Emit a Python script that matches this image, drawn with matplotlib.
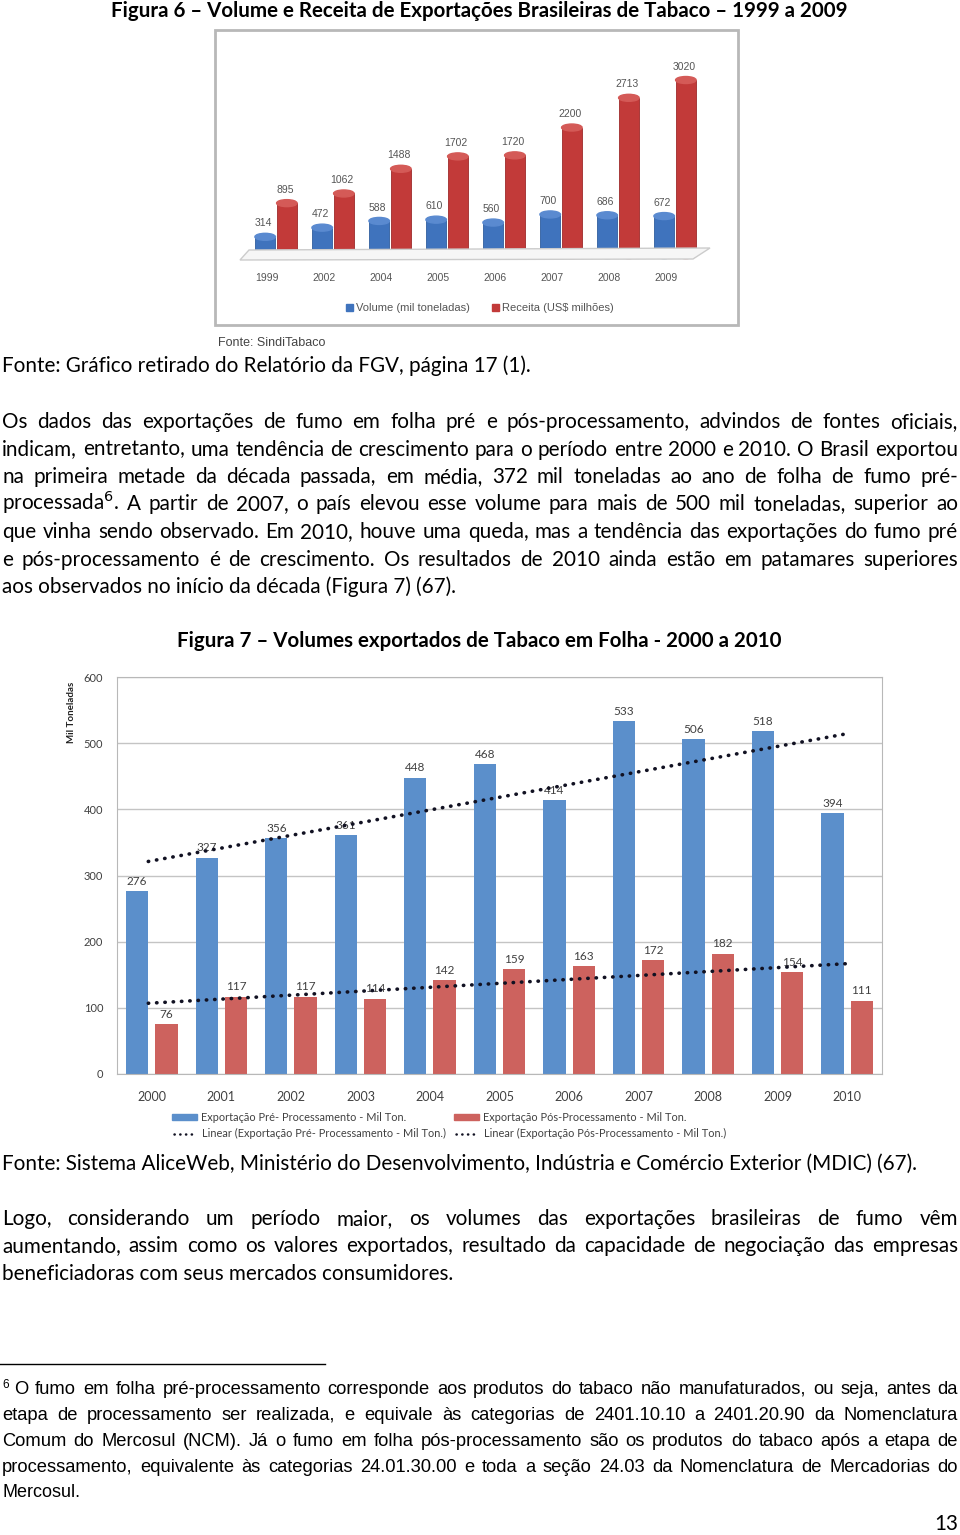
import numpy as np
import matplotlib
matplotlib.use("Agg")
import matplotlib.pyplot as plt
from matplotlib.patches import Rectangle, Ellipse, Polygon
from matplotlib.lines import Line2D

# dados - figura 6 (SindiTabaco)
anos6 = ["1999", "2002", "2004", "2005", "2006", "2007", "2008", "2009"]
volume = [314, 472, 588, 610, 560, 700, 686, 672]
receita = [895, 1062, 1488, 1702, 1720, 2200, 2713, 3020]

# dados - figura 7 (AliceWeb)
anos7 = ["2000", "2001", "2002", "2003", "2004", "2005", "2006", "2007", "2008", "2009", "2010"]
pre = [276, 327, 356, 361, 448, 468, 414, 533, 506, 518, 394]
pos = [76, 117, 117, 114, 142, 159, 163, 172, 182, 154, 111]
yticks7 = [0, 100, 200, 300, 400, 500, 600]

W, H = 960, 1535
BODY = ["Lato", "DejaVu Sans"]
NOTE = ["Liberation Sans Narrow", "Liberation Sans", "DejaVu Sans"]
SMALL = ["Liberation Sans", "DejaVu Sans"]
PONTOS = (0, (0.1, 2.2))

def fx(x):
    return x / W

def fy(y):
    return 1 - y / H

fig = plt.figure(figsize=(9.6, 15.35), dpi=100)
fig.patch.set_facecolor("white")
renderer = fig.canvas.get_renderer()


def linha(y, texto, x0=2, x1=958, justify=True, size=14.9, family=BODY, weight="normal", color="black"):
    # escreve uma linha de texto, justificada palavra a palavra
    if not justify:
        fig.text(fx(x0), fy(y), texto, fontsize=size, family=family, weight=weight,
                 color=color, va="baseline", ha="left")
        return
    palavras = texto.split(" ")
    ts = [fig.text(0, fy(y), p, fontsize=size, family=family, weight=weight, color=color,
                   va="baseline", ha="left") for p in palavras]
    while True:
        ws = [t.get_window_extent(renderer).width for t in ts]
        gap = (x1 - x0 - sum(ws)) / (len(palavras) - 1)
        if gap >= size * 0.3:
            break
        size *= 0.98
        for t in ts:
            t.set_fontsize(size)
    x = x0
    for t, w in zip(ts, ws):
        t.set_x(fx(x))
        x += w + gap


def titulo(y, texto, x0, x1, size=14, family=BODY, weight="bold", color="black"):
    t = fig.text(fx((x0 + x1) / 2), fy(y), texto, fontsize=size, family=family, weight=weight,
                 color=color, va="baseline", ha="center")
    w = t.get_window_extent(renderer).width
    t.set_fontsize(size * (x1 - x0) / w)
    return t


# ---------------- Figura 6 ----------------
titulo(17, "Figura 6 – Volume e Receita de Exportações Brasileiras de Tabaco – 1999 a 2009", 108, 851)

fig.add_artist(Rectangle((fx(215), fy(325)), 523 / W, 295 / H, transform=fig.transFigure,
                         fill=False, ec="#b8b8b8", lw=2))
# piso 3D
fig.add_artist(Polygon([(fx(240), fy(260)), (fx(249), fy(250)), (fx(710), fy(248)), (fx(693), fy(259))],
                       closed=True, transform=fig.transFigure, fc="#f6f6f6", ec="#cccccc", lw=1))

ax1 = fig.add_axes([fx(247.5), fy(255), 456 / W, 197 / H])
ax1.set_facecolor("none")
x6 = np.arange(len(anos6))
ax1.bar(x6 - 0.19, volume, 0.36, color="#3f73bd", ec="#2f5e9e", lw=0.6, zorder=2)
ax1.bar(x6 + 0.19, receita, 0.36, color="#c23a39", ec="#9e2a2a", lw=0.6, zorder=2)
eh = 7 * 3400 / 197
for xi, v, r in zip(x6, volume, receita):
    ax1.add_patch(Ellipse((xi - 0.19, 0), 0.36, eh, color="#2f5e9e", zorder=1, clip_on=False))
    ax1.add_patch(Ellipse((xi + 0.19, 0), 0.36, eh, color="#9e2a2a", zorder=1, clip_on=False))
    ax1.add_patch(Ellipse((xi - 0.19, v), 0.36, eh, color="#5a8ad0", zorder=3, clip_on=False))
    ax1.add_patch(Ellipse((xi + 0.19, r), 0.36, eh, color="#d45a57", zorder=3, clip_on=False))
    ax1.annotate(str(v), (xi - 0.22, v), xytext=(0, 6), textcoords="offset points", ha="center",
                 va="bottom", fontsize=7.5, color="#555555", family=SMALL)
    ax1.annotate(str(r), (xi + 0.16, r), xytext=(0, 6), textcoords="offset points", ha="center",
                 va="bottom", fontsize=7.5, color="#555555", family=SMALL)
ax1.set_xlim(-0.5, 7.5)
ax1.set_ylim(0, 3400)
ax1.set_yticks([])
ax1.set_xticks(x6 - 0.16)
ax1.set_xticklabels(anos6, fontsize=7.5, color="#555555", family=SMALL)
ax1.tick_params(axis="x", length=0, pad=13)
for s in ax1.spines.values():
    s.set_visible(False)

# legenda figura 6
fig.add_artist(Rectangle((fx(346), fy(311)), 7 / W, 7 / H, transform=fig.transFigure, color="#3f73bd"))
fig.text(fx(356), fy(311), "Volume (mil toneladas)", fontsize=8, color="#555555", family=SMALL, va="baseline")
fig.add_artist(Rectangle((fx(492), fy(311)), 7 / W, 7 / H, transform=fig.transFigure, color="#c23a39"))
fig.text(fx(502), fy(311), "Receita (US$ milhões)", fontsize=8, color="#555555", family=SMALL, va="baseline")

fig.text(fx(218), fy(346), "Fonte: SindiTabaco", fontsize=9, color="#444444", family=SMALL, va="baseline")

# ---------------- texto ----------------
linha(372, "Fonte: Gráfico retirado do Relatório da FGV, página 17 (1).", justify=False)
corpo = [
    "Os dados das exportações de fumo em folha pré e pós-processamento, advindos de fontes oficiais,",
    "indicam, entretanto, uma tendência de crescimento para o período entre 2000 e 2010. O Brasil exportou",
    "na primeira metade da década passada, em média, 372 mil toneladas ao ano de folha de fumo pré-",
    "processada$^{6}$. A partir de 2007, o país elevou esse volume para mais de 500 mil toneladas, superior ao",
    "que vinha sendo observado. Em 2010, houve uma queda, mas a tendência das exportações do fumo pré",
    "e pós-processamento é de crescimento. Os resultados de 2010 ainda estão em patamares superiores",
]
for i, s in enumerate(corpo):
    linha(428 + 27.5 * i, s)
linha(428 + 27.5 * 6, "aos observados no início da década (Figura 7) (67).", justify=False)

# ---------------- Figura 7 ----------------
titulo(647, "Figura 7 – Volumes exportados de Tabaco em Folha - 2000 a 2010", 175, 784)

ax2 = fig.add_axes([fx(117), fy(1074), 765 / W, 397 / H])
x7 = np.arange(len(anos7))
ax2.bar(x7 - 0.21, pre, 0.32, color="#5b8fcb", zorder=2)
ax2.bar(x7 + 0.21, pos, 0.32, color="#cd625e", zorder=2)
for xi, a, b in zip(x7, pre, pos):
    ax2.annotate(str(a), (xi - 0.21, a), xytext=(0, 3), textcoords="offset points", ha="center",
                 va="bottom", fontsize=8.5, color="#404040", family=BODY)
    ax2.annotate(str(b), (xi + 0.21, b), xytext=(0, 3), textcoords="offset points", ha="center",
                 va="bottom", fontsize=8.5, color="#404040", family=BODY)

# tendências lineares
for serie in (pre, pos):
    a, b = np.polyfit(x7, serie, 1)
    xs = np.array([x7[0] - 0.05, x7[-1]])
    ax2.plot(xs, a * xs + b, color="#111122", lw=2.6, ls=PONTOS, dash_capstyle="round", zorder=4)

ax2.set_xlim(-0.5, len(anos7) - 0.5)
ax2.set_ylim(0, 600)
ax2.set_yticks(yticks7)
ax2.set_yticklabels([str(v) for v in yticks7], fontsize=8, color="#404040", family=BODY)
ax2.set_xticks(x7)
ax2.set_xticklabels(anos7, fontsize=9, color="#404040", family=BODY)
ax2.tick_params(axis="y", length=0, pad=10)
ax2.tick_params(axis="x", length=0, pad=12)
ax2.yaxis.grid(True, color="#c4c4c4", lw=1)
ax2.set_axisbelow(True)
for s in ax2.spines.values():
    s.set_color("#b8b8b8")
fig.text(fx(72), fy(712), "Mil Toneladas", rotation=90, fontsize=7, weight="bold", family=BODY,
         ha="center", va="center", color="#202020")

# legenda figura 7
fig.add_artist(Rectangle((fx(172), fy(1120)), 25 / W, 6 / H, transform=fig.transFigure, color="#5b8fcb"))
fig.text(fx(201), fy(1121), "Exportação Pré- Processamento - Mil Ton.", fontsize=7.9, family=BODY,
         color="#404040", va="baseline")
fig.add_artist(Rectangle((fx(454), fy(1120)), 25 / W, 6 / H, transform=fig.transFigure, color="#cd625e"))
fig.text(fx(483), fy(1121), "Exportação Pós-Processamento - Mil Ton.", fontsize=7.9, family=BODY,
         color="#404040", va="baseline")
for x0, x1, xt, s in [(174, 197, 202, "Linear (Exportação Pré- Processamento - Mil Ton.)"),
                      (456, 479, 484, "Linear (Exportação Pós-Processamento - Mil Ton.)")]:
    fig.add_artist(Line2D([fx(x0), fx(x1)], [fy(1134), fy(1134)], transform=fig.transFigure,
                          color="#111122", lw=1.8, ls=PONTOS, dash_capstyle="round"))
    fig.text(fx(xt), fy(1137), s, fontsize=7.9, family=BODY, color="#404040", va="baseline")

linha(1170, "Fonte: Sistema AliceWeb, Ministério do Desenvolvimento, Indústria e Comércio Exterior (MDIC) (67).",
      justify=False)
linha(1225, "Logo, considerando um período maior, os volumes das exportações brasileiras de fumo vêm")
linha(1252.5, "aumentando, assim como os valores exportados, resultado da capacidade de negociação das empresas")
linha(1280, "beneficiadoras com seus mercados consumidores.", justify=False)

# nota de rodapé
fig.add_artist(Line2D([0, fx(325)], [fy(1364), fy(1364)], transform=fig.transFigure, color="black", lw=1))
fig.text(fx(2), fy(1388), "6", fontsize=8.5, family=NOTE, va="baseline")
nota = [
    "O fumo em folha pré-processamento corresponde aos produtos do tabaco não manufaturados, ou seja, antes da",
    "etapa de processamento ser realizada, e equivale às categorias de 2401.10.10 a 2401.20.90 da Nomenclatura",
    "Comum do Mercosul (NCM). Já o fumo em folha pós-processamento são os produtos do tabaco após a etapa de",
    "processamento, equivalente às categorias 24.01.30.00 e toda a seção 24.03 da Nomenclatura de Mercadorias do",
]
linha(1394, nota[0], x0=14, size=13.2, family=NOTE)
for i, s in enumerate(nota[1:]):
    linha(1420 + 25.8 * i, s, size=13.2, family=NOTE)
linha(1497, "Mercosul.", size=13, family=NOTE, justify=False)

fig.text(fx(958), fy(1530), "13", fontsize=14.9, family=BODY, ha="right", va="baseline")

fig.savefig("out.png", dpi=100)
